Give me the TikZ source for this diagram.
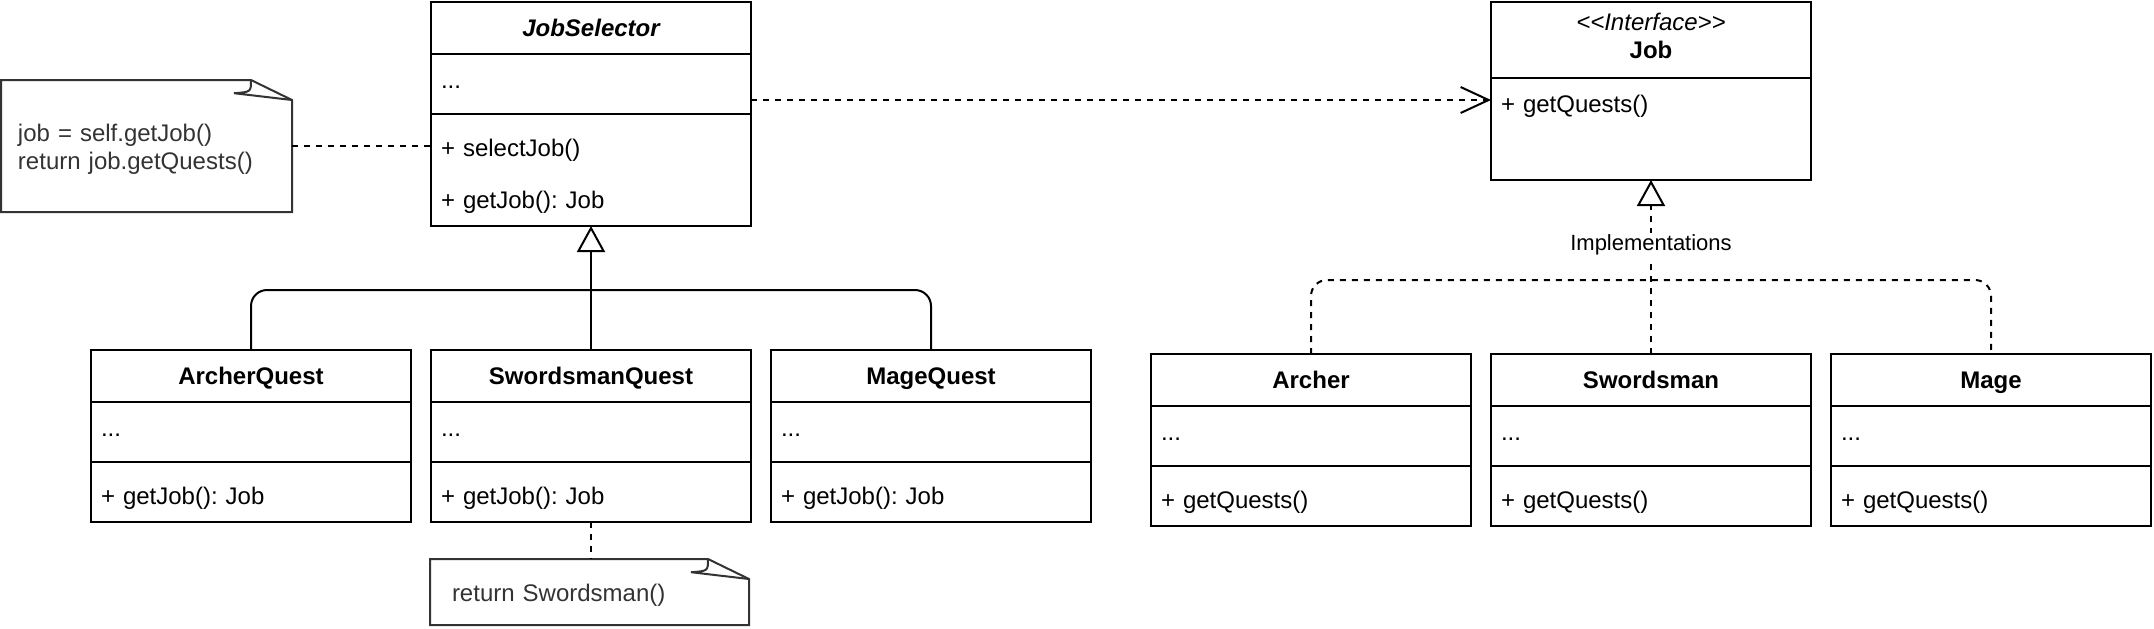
\documentclass[tikz,border=0pt]{standalone}
\usepackage{fontspec}
\setmainfont{Liberation Sans}
\usetikzlibrary{positioning,arrows.meta}
\definecolor{notecolor}{RGB}{51,51,51}

\begin{document}
\begin{tikzpicture}[x=1pt, y=-1pt, line width=1pt, node font=\fontsize{12pt}{14.4pt}\selectfont\frenchspacing]
    % Define styles
    \tikzstyle{classname} = [rectangle, draw, minimum width=160pt, minimum height=26pt, inner sep=0pt, outer sep=0pt, text height=10pt, text depth=2pt, font=\bfseries]
    \tikzstyle{fields} = [rectangle, draw, minimum width=160pt, minimum height=30pt, inner xsep=5pt, inner ysep=0pt, outer sep=0pt, text width=150pt, align=left, text height=10pt, text depth=6pt]
    \tikzstyle{methods} = [fields, text height=14pt, text depth=2pt]
    \tikzstyle{note} = [rectangle, inner xsep=8.5pt, inner ysep=0pt, outer sep=0pt, align=left, text=notecolor]
    \tikzstyle{notefold} = [draw=notecolor]
    \tikzstyle{notelink} = [dash pattern=on 3pt off 3pt]
    \tikzstyle{depend} = [-{Straight Barb[length=14pt, width=13pt]}, dash pattern=on 3pt off 3pt]
    \tikzstyle{inherit} = [-{Triangle[open, length=13pt, width=14pt]}]
    \tikzstyle{realize} = [inherit, dash pattern=on 3pt off 3pt]
    \tikzstyle{implabel} = [fill=white, inner sep=1pt, font=\fontsize{11pt}{13.2pt}\selectfont]

    \useasboundingbox (0,0) rectangle (1077,314);

    % JobSelector and the quests
    \node [classname, font=\bfseries\itshape, anchor=north west] (jsname) at (215.5,1) {JobSelector};
    \node [fields, below=0pt of jsname] (jsfields) {...};
    \node [methods, minimum height=56pt, text height=14pt, text depth=28pt, below=0pt of jsfields] (jsmethods) {+ selectJob()\\[11.6pt]+ getJob(): Job};

    \node [classname, anchor=north west] (aqname) at (45.5,175) {ArcherQuest};
    \node [fields, below=0pt of aqname] (aqfields) {...};
    \node [methods, below=0pt of aqfields] (aqmethods) {+ getJob(): Job};
    \node [classname, right=10pt of aqname] (swqname) {SwordsmanQuest};
    \node [fields, below=0pt of swqname] (swqfields) {...};
    \node [methods, below=0pt of swqfields] (swqmethods) {+ getJob(): Job};
    \node [classname, right=10pt of swqname] (mqname) {MageQuest};
    \node [fields, below=0pt of mqname] (mqfields) {...};
    \node [methods, below=0pt of mqfields] (mqmethods) {+ getJob(): Job};

    % Job and the jobs
    \node [classname, minimum height=38pt, text width=150pt, align=center, text height=10pt, text depth=20pt, anchor=north west] (jobname) at (745.5,1) {{\mdseries\itshape <{}<Interface>{}>}\\Job};
    \node [fields, minimum height=51pt, text height=10pt, text depth=27pt, below=0pt of jobname] (jobbody) {+ getQuests()};

    \node [classname, anchor=north west] (archername) at (575.5,177) {Archer};
    \node [fields, below=0pt of archername] (archerfields) {...};
    \node [methods, below=0pt of archerfields] (archermethods) {+ getQuests()};
    \node [classname, right=10pt of archername] (swname) {Swordsman};
    \node [fields, below=0pt of swname] (swfields) {...};
    \node [methods, below=0pt of swfields] (swmethods) {+ getQuests()};
    \node [classname, right=10pt of swname] (magename) {Mage};
    \node [fields, below=0pt of magename] (magefields) {...};
    \node [methods, below=0pt of magefields] (magemethods) {+ getQuests()};

    % Notes
    \node [note, minimum width=145.5pt, minimum height=66pt, text width=128.5pt, text height=10pt, text depth=15pt, anchor=north west] (jobnote) at (0.5,40) {job = self.getJob()\\return job.getQuests()};
    \draw [notefold] (jobnote.north west) -- ([xshift=-20.5pt]jobnote.north east) -- ([yshift=-10pt]jobnote.north east) -- (jobnote.south east) -- (jobnote.south west) -- cycle;
    \draw [notefold] ([xshift=-20.5pt]jobnote.north east) .. controls ([xshift=-20.5pt,yshift=-6pt]jobnote.north east) .. ([xshift=-29pt,yshift=-6.6pt]jobnote.north east) -- ([yshift=-10pt]jobnote.north east);
    \node [note, minimum width=159.5pt, minimum height=33pt, inner xsep=11pt, text width=137.5pt, text height=11pt, text depth=2pt, anchor=north west] (swnote) at (215,279.5) {return Swordsman()};
    \draw [notefold] (swnote.north west) -- ([xshift=-20.5pt]swnote.north east) -- ([yshift=-10pt]swnote.north east) -- (swnote.south east) -- (swnote.south west) -- cycle;
    \draw [notefold] ([xshift=-20.5pt]swnote.north east) .. controls ([xshift=-20.5pt,yshift=-6pt]swnote.north east) .. ([xshift=-29pt,yshift=-6.6pt]swnote.north east) -- ([yshift=-10pt]swnote.north east);

    % Arrows
    \draw [notelink] (jobnote.east) -- (jobnote.east -| jsmethods.west);
    \draw [notelink] (swqmethods.south) -- (swqmethods.south |- swnote.north);
    \draw [depend] ([yshift=-8pt]jsfields.east) -- ([yshift=-8pt]jsfields.east -| jobbody.west);
    \draw [inherit] (swqname.north) -- (jsmethods.south);
    \draw [rounded corners=8pt] (aqname.north) |- ([yshift=30pt]swqname.north) -| (mqname.north);
    \draw [realize] (swname.north) -- node [implabel, pos=0.625] {Implementations} (jobbody.south);
    \draw [notelink, rounded corners=8pt] (archername.north) |- ([yshift=37pt]swname.north) -| (magename.north);
\end{tikzpicture}
\end{document}
